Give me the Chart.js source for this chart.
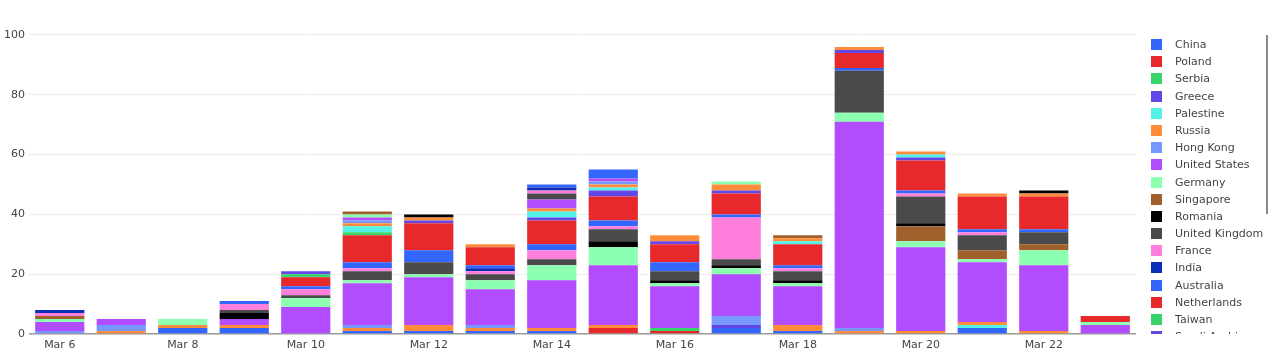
<!DOCTYPE html>
<html>
<head>
<meta charset="utf-8">
<script src="https://cdn.jsdelivr.net/npm/chart.js@4.4.1/dist/chart.umd.min.js"></script>
<style>
  html, body { margin: 0; padding: 0; background: #fff; }
  #wrap { position: relative; width: 1268px; height: 355px; overflow: hidden; }
  #c { position: absolute; left: 0; top: 0; }
  #legend { position: absolute; left: 1140px; top: 36px; width: 124px; height: 298px; overflow: hidden;
            font-family: "DejaVu Sans", Verdana, sans-serif; font-size: 11px; color: #444; }
  .item { position: relative; height: 17.2px; }
  .sw { position: absolute; left: 11px; top: 3px; width: 11px; height: 11px; }
  .lbl { position: absolute; left: 35px; top: 0; line-height: 17.2px; white-space: nowrap; }
  #scroll { position: absolute; left: 1266px; top: 35px; width: 2px; height: 179px; background: #8a8a8a; }
</style>
</head>
<body>
<div id="wrap">
  <canvas id="c" width="1268" height="355"></canvas>
  <div id="legend"></div>
  <div id="scroll"></div>
</div>
<script>
// ---- categories ----
const dates = ['Mar 6','Mar 7','Mar 8','Mar 9','Mar 10','Mar 11','Mar 12','Mar 13','Mar 14',
               'Mar 15','Mar 16','Mar 17','Mar 18','Mar 19','Mar 20','Mar 21','Mar 22','Mar 23'];
const yTicks = [0, 20, 40, 60, 80, 100];

// ---- series (stack order bottom -> top) ----
const china       = [0,0,2,2,0,1,1,1,1,0,0,2,1,0,0,2,0,0];
const poland      = [0,0,0,0,0,0,0,0,0,2,1,0,0,0,0,0,0,0];
const serbia      = [0,0,0,0,0,0,0,0,0,0,1,0,0,0,0,0,0,0];
const greece      = [0,0,0,0,0,0,0,0,0,0,0,1,0,0,0,0,0,0];
const palestine   = [0,0,0,0,0,0,0,0,0,0,0,0,0,0,0,1,0,0];
const russia      = [0,1,1,1,0,1,2,1,1,1,0,0,2,1,1,1,1,0];
const hongKong    = [1,2,0,0,0,1,0,1,0,0,0,3,0,1,0,0,0,0];
const unitedStates= [3,2,0,2,9,14,16,12,16,20,14,14,13,69,28,20,22,3];
const germany     = [1,0,2,0,3,1,1,3,5,6,1,2,1,3,2,1,5,1];
const singapore   = [1,0,0,0,0,0,0,0,0,0,0,0,0,0,5,3,2,0];
const romania     = [0,0,0,2,0,0,0,0,0,2,1,1,1,0,1,0,0,0];
const unitedKingdom=[0,0,0,1,1,3,4,2,2,4,3,2,3,14,9,5,4,0];
const france      = [1,0,0,2,2,1,0,1,3,1,0,14,1,0,1,1,0,0];
const india       = [1,0,0,0,0,0,0,1,0,0,0,0,0,0,0,0,0,0];
const australia   = [0,0,0,1,1,2,4,1,2,2,3,1,1,1,1,1,1,0];
const netherlands = [0,0,0,0,3,9,9,6,8,8,6,7,7,5,10,11,11,2];
const taiwan      = [0,0,0,0,1,1,0,0,0,0,0,0,0,0,0,0,0,0];
const saudiArabia = [0,0,0,0,1,0,1,0,1,2,1,1,0,1,1,0,0,0];
// traces further down the (scrolled-away) legend
const other1  = [0,0,0,0,0,2,0,0,2,1,0,0,1,0,1,0,0,0];
const other2  = [0,0,0,0,0,1,1,1,1,1,2,2,1,1,1,1,1,0];
const other3  = [0,0,0,0,0,1,0,0,0,1,0,0,0,0,0,0,0,0];
const other4  = [0,0,0,0,0,1,0,0,3,1,0,0,0,0,0,0,0,0];
const other5  = [0,0,0,0,0,1,0,0,0,0,0,1,0,0,0,0,0,0];
const other6  = [0,0,0,0,0,1,0,0,0,0,0,0,1,0,0,0,0,0];
const other7  = [0,0,0,0,0,0,1,0,0,0,0,0,0,0,0,0,1,0];
const other8  = [0,0,0,0,0,0,0,0,2,0,0,0,0,0,0,0,0,0];
const other9  = [0,0,0,0,0,0,0,0,1,0,0,0,0,0,0,0,0,0];
const other10 = [0,0,0,0,0,0,0,0,1,0,0,0,0,0,0,0,0,0];
const other11 = [0,0,0,0,0,0,0,0,1,3,0,0,0,0,0,0,0,0];

const names = ['China','Poland','Serbia','Greece','Palestine','Russia','Hong Kong','United States',
  'Germany','Singapore','Romania','United Kingdom','France','India','Australia','Netherlands',
  'Taiwan','Saudi Arabia','…','…','…','…','…','…','…','…','…','…','…'];
const series = [china,poland,serbia,greece,palestine,russia,hongKong,unitedStates,germany,singapore,
  romania,unitedKingdom,france,india,australia,netherlands,taiwan,saudiArabia,
  other1,other2,other3,other4,other5,other6,other7,other8,other9,other10,other11];

const palette = ['#3366FF','#E8292B','#38D46A','#6347E6','#52F2E8','#FF8C3A','#7799FF',
                 '#B24DFF','#8CFFB0','#A0602C','#000000','#4A4A4A','#FF7FDD','#0A2EB5'];

const datasets = series.map((d, i) => ({
  label: names[i],
  data: d,
  backgroundColor: palette[i % palette.length],
  borderWidth: 0,
  barPercentage: 0.8,
  categoryPercentage: 1.0
}));

const FONT = '"DejaVu Sans", Verdana, sans-serif';

new Chart(document.getElementById('c'), {
  type: 'bar',
  data: { labels: dates, datasets },
  options: {
    responsive: false,
    animation: false,
    devicePixelRatio: 1,
    layout: { padding: { top: 32, right: 132, bottom: 0, left: 0 } },
    plugins: { legend: { display: false }, tooltip: { enabled: false } },
    scales: {
      x: {
        stacked: true,
        grid: { display: false, drawTicks: false },
        border: { display: false },
        ticks: {
          autoSkip: false, maxRotation: 0, minRotation: 0, padding: 5,
          color: '#444', font: { family: FONT, size: 11 },
          callback: function(v, i) { return i % 2 === 0 ? dates[i] : ''; }
        },
        afterFit: s => { s.height = 21; }
      },
      y: {
        stacked: true,
        min: 0, max: 101,
        afterBuildTicks: a => { a.ticks = yTicks.map(v => ({ value: v })); },
        grid: {
          drawTicks: false,
          color: c => c.tick && c.tick.value === 0 ? '#9a9a9a' : '#ececec',
          lineWidth: c => c.tick && c.tick.value === 0 ? 1.5 : 1
        },
        border: { display: false },
        ticks: { padding: 4, color: '#444', font: { family: FONT, size: 11 } },
        afterFit: s => { s.width = 29; }
      }
    }
  }
});

// HTML legend (scrolled legend, only the top part visible)
const lg = document.getElementById('legend');
names.forEach((n, i) => {
  const it = document.createElement('div'); it.className = 'item';
  const sw = document.createElement('div'); sw.className = 'sw'; sw.style.background = palette[i % palette.length];
  const lb = document.createElement('div'); lb.className = 'lbl'; lb.textContent = n;
  it.appendChild(sw); it.appendChild(lb); lg.appendChild(it);
});
</script>
</body>
</html>
